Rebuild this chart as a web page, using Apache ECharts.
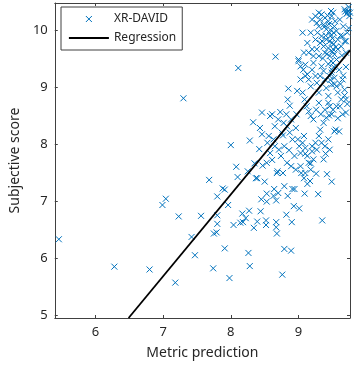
<!DOCTYPE html>
<html>
<head>
<meta charset="utf-8">
<script src="https://cdn.jsdelivr.net/npm/echarts@6/dist/echarts.min.js"></script>
<style>html,body{margin:0;padding:0;background:#fff;}#c{width:356px;height:367px;}</style>
</head>
<body>
<div id="c"></div>
<script>
// ---- data ----
const xTicks = [6, 7, 8, 9];
const yTicks = [5, 6, 7, 8, 9, 10];
const xRange = [5.4, 9.76];
const yRange = [4.95, 10.47];

const metricPrediction = [
5.46,6.28,6.80,6.99,7.04,7.23,7.18,7.30,7.42,7.47,7.56,7.68,7.74,7.75,7.79,7.80,7.80,7.80,7.88,7.91,
7.91,7.96,8.00,7.98,8.04,8.08,8.10,8.11,8.14,8.17,8.18,8.22,8.25,8.26,8.27,8.28,8.28,8.33,8.34,8.35,
8.37,8.39,8.39,8.43,8.42,8.44,8.45,8.46,8.46,8.47,8.50,8.52,8.52,8.53,8.53,8.53,8.56,8.54,8.58,8.61,
8.61,8.66,8.67,8.67,8.67,8.68,8.69,8.70,8.71,8.73,8.76,8.77,8.79,8.82,8.83,8.84,8.83,8.85,8.86,8.87,
8.89,8.90,8.91,8.94,8.93,8.97,8.98,9.00,9.01,9.04,9.06,9.08,9.09,9.10,9.13,9.18,9.20,9.26,9.29,9.35,
9.40,9.42,9.49,9.45,9.49,9.53,9.60,9.65,9.68,9.70,9.63,9.70,9.72,9.68,9.74,
9.00,9.03,9.07,9.10,9.13,9.15,9.18,9.20,9.22,9.25,9.27,9.30,9.32,9.34,9.37,9.39,9.41,9.44,9.46,9.49,9.51,9.53,9.56,9.58,
9.06,9.09,9.12,9.15,9.18,9.22,9.26,9.30,9.33,9.37,9.39,9.41,9.44,9.46,9.49,9.51,9.56,9.61,9.65,9.70,
9.20,9.25,9.27,9.30,9.32,9.34,9.37,9.39,9.41,9.44,9.46,9.49,9.51,9.53,9.56,9.58,9.61,9.63,9.65,9.70,9.72,9.75,
9.25,9.27,9.30,9.32,9.34,9.37,9.39,9.41,9.44,9.46,9.49,9.51,9.53,9.56,9.58,9.13,9.15,9.18,9.20,9.22,9.08,9.10,9.03,
8.99,9.01,9.03,9.06,9.08,9.10,9.13,9.15,9.18,9.20,9.22,9.25,9.27,9.30,9.32,9.34,9.37,9.39,9.44,9.46,8.94,8.89,8.96,9.03,9.10,9.17,8.84,8.79,8.77,8.74,8.79,8.65,8.63,8.58,8.68,8.64,8.63,
8.65,8.70,8.75,8.78,8.82,8.87,8.91,8.89,8.96,
9.45,9.47,9.48,9.50,9.52,9.50,9.48,9.52,9.49,9.47,9.53,9.55,9.44,9.42,9.40,9.38,9.36,9.35,9.54,9.52,9.46,9.43,9.48,9.28,9.30,
9.74,9.73,9.76,9.71,9.69,9.66,9.68,9.62,9.64,9.70,9.60,9.66,
9.62,9.68,9.72,9.58,9.55
];
const subjectiveScore = [
6.33,5.85,5.80,6.93,7.04,6.73,5.57,8.80,6.37,6.05,6.74,7.37,5.82,6.43,6.45,6.75,7.08,6.60,7.22,7.20,
6.17,6.93,7.98,5.65,6.58,7.60,7.42,9.33,6.62,6.78,6.63,6.70,7.52,6.09,6.83,8.06,5.86,8.38,6.53,7.66,
7.40,6.64,7.40,8.28,7.91,6.82,7.03,8.55,8.17,7.62,7.34,6.66,6.58,7.13,6.99,7.67,8.14,8.02,8.49,8.52,
7.72,9.53,7.01,6.63,6.54,6.43,7.52,7.14,7.90,8.56,5.71,8.15,6.16,6.76,7.67,8.78,8.31,8.97,7.89,8.67,
6.13,6.63,7.21,7.21,6.91,8.52,8.93,9.45,6.87,7.49,9.95,7.40,7.13,7.83,7.30,7.66,7.96,7.48,7.12,6.66,
7.83,7.47,7.34,8.50,9.04,8.22,8.22,9.13,8.95,8.78,8.78,9.80,10.30,10.36,10.03,
9.48,9.36,9.30,9.39,9.22,9.13,9.01,9.30,9.42,9.19,9.07,8.90,9.19,9.36,9.28,9.13,8.98,8.84,9.19,9.30,9.42,9.16,9.01,8.90,
8.90,8.78,8.66,8.57,8.49,8.43,8.60,8.72,8.52,8.37,8.60,8.46,8.72,8.66,8.52,8.60,8.66,8.66,8.52,8.55,
10.18,10.24,10.12,10.06,10.18,10.27,10.09,10.21,10.01,10.15,9.95,10.24,10.30,10.06,9.98,9.83,10.18,9.71,9.89,9.60,9.95,10.24,
9.83,9.66,9.54,9.77,9.89,9.71,9.60,9.83,9.68,9.54,9.77,9.66,9.57,9.48,9.66,9.77,9.60,9.95,9.66,9.54,9.60,9.19,9.13,
8.08,7.96,7.84,8.02,8.14,7.93,7.79,7.67,7.55,7.87,7.73,8.02,7.90,8.14,8.25,8.02,7.73,7.96,8.08,7.90,7.79,7.61,7.55,7.61,7.49,7.35,7.09,7.26,7.49,7.79,7.96,7.96,8.08,7.84,7.49,7.21,7.09,
8.31,8.43,8.20,8.37,8.52,8.20,8.08,8.43,8.28,
10.10,10.00,9.90,9.85,9.75,9.62,9.45,9.35,9.25,9.12,9.05,9.70,9.40,9.58,9.90,10.05,9.50,9.80,10.15,9.95,9.80,10.25,10.33,9.95,10.30,
10.40,10.33,10.30,10.28,10.32,10.06,9.80,9.90,9.55,9.35,9.30,9.20,
9.05,8.85,8.70,8.45,8.25
];
const regressionX = [6.49, 9.76];
const regressionY = [4.95, 9.64];

// ---- build ----
const points = metricPrediction.map((x, i) => [x, subjectiveScore[i]]);
const regression = regressionX.map((x, i) => [x, regressionY[i]]);

const FONT = 'Noto Sans';
const AXIS_COLOR = '#404040';
const TEXT_COLOR = '#262626';
const BLUE = '#0072BD';
const XPATH = 'path://M0,0L10,10M0,10L10,0';

function makeX(pos, withLabel) {
  return {
    type: 'value', position: pos, min: xRange[0], max: xRange[1],
    name: withLabel ? 'Metric prediction' : '', nameLocation: 'middle', nameGap: 28,
    nameTextStyle: {fontFamily: FONT, fontSize: 14, color: TEXT_COLOR},
    axisLine: {show: true, onZero: false, lineStyle: {color: AXIS_COLOR, width: 1}},
    axisTick: {show: true, inside: true, length: 3, customValues: xTicks, lineStyle: {color: AXIS_COLOR}},
    axisLabel: {show: withLabel, customValues: xTicks, margin: 8, fontFamily: FONT, fontSize: 13, color: TEXT_COLOR},
    splitLine: {show: false}
  };
}
function makeY(pos, withLabel) {
  return {
    type: 'value', position: pos, min: yRange[0], max: yRange[1],
    name: withLabel ? 'Subjective score' : '', nameLocation: 'middle', nameGap: 27,
    nameTextStyle: {fontFamily: FONT, fontSize: 14, color: TEXT_COLOR},
    axisLine: {show: true, onZero: false, lineStyle: {color: AXIS_COLOR, width: 1}},
    axisTick: {show: true, inside: true, length: 3, customValues: yTicks, lineStyle: {color: AXIS_COLOR}},
    axisLabel: {show: withLabel, customValues: yTicks, margin: 7, fontFamily: FONT, fontSize: 13, color: TEXT_COLOR},
    splitLine: {show: false}
  };
}

const chart = echarts.init(document.getElementById('c'), null, {renderer: 'canvas'});
chart.setOption({
  animation: false,
  backgroundColor: '#fff',
  grid: {left: 46, right: 6, top: 3, bottom: 49},
  xAxis: [makeX('bottom', true), makeX('top', false)],
  yAxis: [makeY('left', true), makeY('right', false)],
  legend: {
    orient: 'vertical', left: 61, top: 7,
    padding: [5, 6, 5, 7], itemWidth: 40, itemHeight: 6, itemGap: 5,
    backgroundColor: '#fff', borderColor: AXIS_COLOR, borderWidth: 1, borderRadius: 0,
    textStyle: {fontFamily: FONT, fontSize: 12, color: TEXT_COLOR, lineHeight: 14},
    data: [
      {name: 'XR-DAVID', icon: XPATH, itemStyle: {color: 'rgba(0,0,0,0)', borderColor: BLUE, borderWidth: 1}},
      {name: 'Regression', itemStyle: {color: 'rgba(0,0,0,0)', borderColor: 'rgba(0,0,0,0)', borderWidth: 0, opacity: 0}, lineStyle: {color: '#000', width: 1.8}}
    ]
  },
  series: [
    {
      name: 'XR-DAVID', type: 'scatter', xAxisIndex: 0, yAxisIndex: 0,
      symbol: XPATH, symbolSize: 6,
      itemStyle: {color: 'rgba(0,0,0,0)', borderColor: BLUE, borderWidth: 1, opacity: 1},
      data: points
    },
    {
      name: 'Regression', type: 'line', xAxisIndex: 0, yAxisIndex: 0,
      symbol: 'none', showSymbol: false,
      lineStyle: {color: '#000', width: 1.8},
      itemStyle: {color: '#000'},
      data: regression
    }
  ]
});
</script>
</body>
</html>
